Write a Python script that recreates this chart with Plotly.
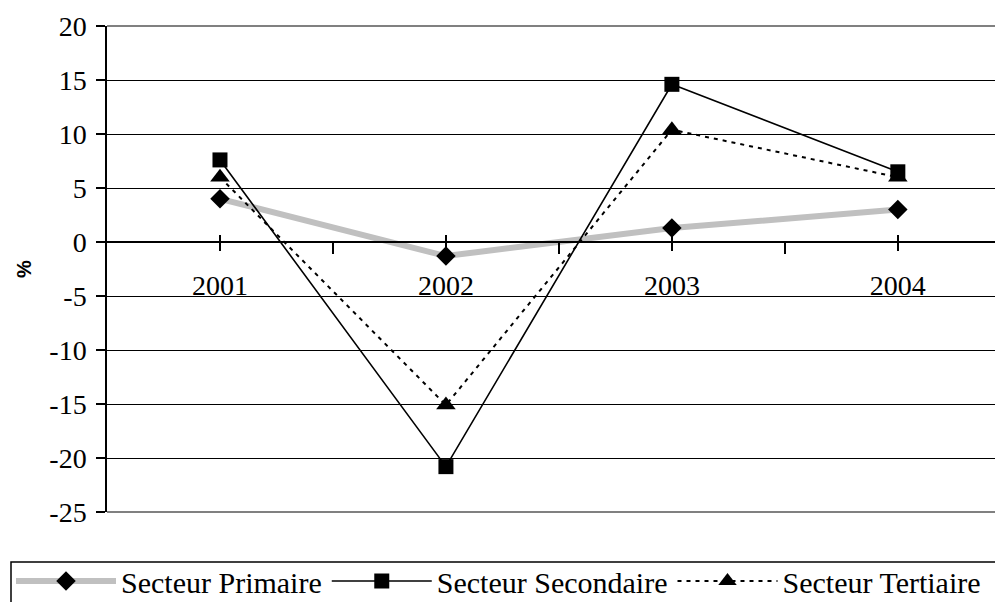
import plotly.graph_objects as go

years = ["2001", "2002", "2003", "2004"]
primaire = [4.0, -1.3, 1.3, 3.0]
secondaire = [7.6, -20.8, 14.6, 6.5]
tertiaire = [6.0, -15.1, 10.4, 6.0]
y_ticks = [20, 15, 10, 5, 0, -5, -10, -15, -20, -25]

xpos = list(range(len(years)))
boundaries = [i + 0.5 for i in range(len(years) - 1)]

SERIF = "Liberation Serif, Times New Roman, serif"

fig = go.Figure()
fig.add_trace(go.Scatter(
    x=xpos, y=primaire, name="Secteur Primaire", mode="lines+markers",
    line=dict(color="#c0c0c0", width=6),
    marker=dict(symbol="diamond", size=15, color="black"),
    legendrank=1,
))
fig.add_trace(go.Scatter(
    x=xpos, y=tertiaire, name="Secteur Tertiaire", mode="lines+markers",
    line=dict(color="black", width=2, dash="4px,5px"),
    marker=dict(symbol="triangle-up", size=17, color="black"),
    legendrank=3,
))
fig.add_trace(go.Scatter(
    x=xpos, y=secondaire, name="Secteur Secondaire", mode="lines+markers",
    line=dict(color="black", width=1.6),
    marker=dict(symbol="square", size=15, color="black"),
    legendrank=2,
))

# overlay x axis only for the upper half of the crossing category ticks
fig.add_trace(go.Scatter(x=xpos, y=primaire, xaxis="x2", mode="none",
                         showlegend=False, hoverinfo="skip"))

xrange = [-0.5, 3.43]
zero_pos = (0 - (-25)) / 45

PLOT_L, PLOT_T, PLOT_W, PLOT_H = 107, 26, 888, 486


def px_to_paper_x(px):
    return (px - PLOT_L) / PLOT_W


def px_to_paper_y(py):
    return (PLOT_T + PLOT_H - py) / PLOT_H


fig.update_layout(
    width=995, height=602,
    margin=dict(l=PLOT_L, r=995 - PLOT_L - PLOT_W, t=PLOT_T,
                b=602 - PLOT_T - PLOT_H, autoexpand=False),
    paper_bgcolor="white", plot_bgcolor="white",
    font=dict(family=SERIF, size=28, color="black"),
    xaxis=dict(
        range=xrange, tickvals=xpos, ticktext=years,
        anchor="free", position=zero_pos,
        showline=True, linecolor="black", linewidth=1.5,
        ticks="outside", ticklen=8, tickwidth=1.5, tickcolor="black",
        minor=dict(tickvals=boundaries, ticks="outside", ticklen=11,
                   tickwidth=1.5, tickcolor="black", showgrid=False),
        showgrid=False, zeroline=False,
        ticklabelstandoff=11,
        tickfont=dict(family=SERIF, size=28, color="black"),
    ),
    xaxis2=dict(
        range=xrange, tickvals=xpos, overlaying="x",
        anchor="free", position=zero_pos,
        showline=False, ticks="inside", ticklen=7, tickwidth=1.5,
        tickcolor="black", showticklabels=False, showgrid=False,
        zeroline=False,
    ),
    yaxis=dict(
        range=[-25, 20], tickvals=y_ticks,
        ticktext=[str(v) for v in y_ticks],
        showline=True, linecolor="black", linewidth=1.5,
        ticks="outside", ticklen=9, tickwidth=1.5, tickcolor="black",
        showgrid=True, gridcolor="black", gridwidth=1.3,
        zeroline=True, zerolinecolor="black", zerolinewidth=1.5,
        ticklabelstandoff=4,
        tickfont=dict(family=SERIF, size=28, color="black"),
        title=dict(text="<b>%</b>", standoff=12,
                   font=dict(family="Liberation Sans, Arial, sans-serif",
                             size=20, color="black")),
    ),
    legend=dict(
        orientation="h", x=px_to_paper_x(11), y=px_to_paper_y(555),
        xanchor="left", yanchor="top",
        borderwidth=0, bgcolor="rgba(0,0,0,0)",
        font=dict(family=SERIF, size=30, color="black"),
        itemwidth=100,
    ),
    shapes=[
        # plot-area border lines (top and bottom)
        dict(type="line", xref="paper", yref="paper", x0=0, x1=1, y0=1, y1=1,
             line=dict(color="#808080", width=2)),
        dict(type="line", xref="paper", yref="paper", x0=0, x1=1, y0=0, y1=0,
             line=dict(color="#808080", width=2)),
        # legend frame (runs off the bottom and right edges as in the original)
        dict(type="rect", xref="paper", yref="paper",
             x0=px_to_paper_x(11), x1=px_to_paper_x(1010),
             y0=px_to_paper_y(562), y1=px_to_paper_y(620),
             line=dict(color="black", width=1.5), fillcolor="rgba(0,0,0,0)",
             layer="above"),
    ],
)

fig.write_html("out.html",
               config={"displayModeBar": False},
               post_script="document.body.style.margin='0';document.body.style.overflow='hidden';")
